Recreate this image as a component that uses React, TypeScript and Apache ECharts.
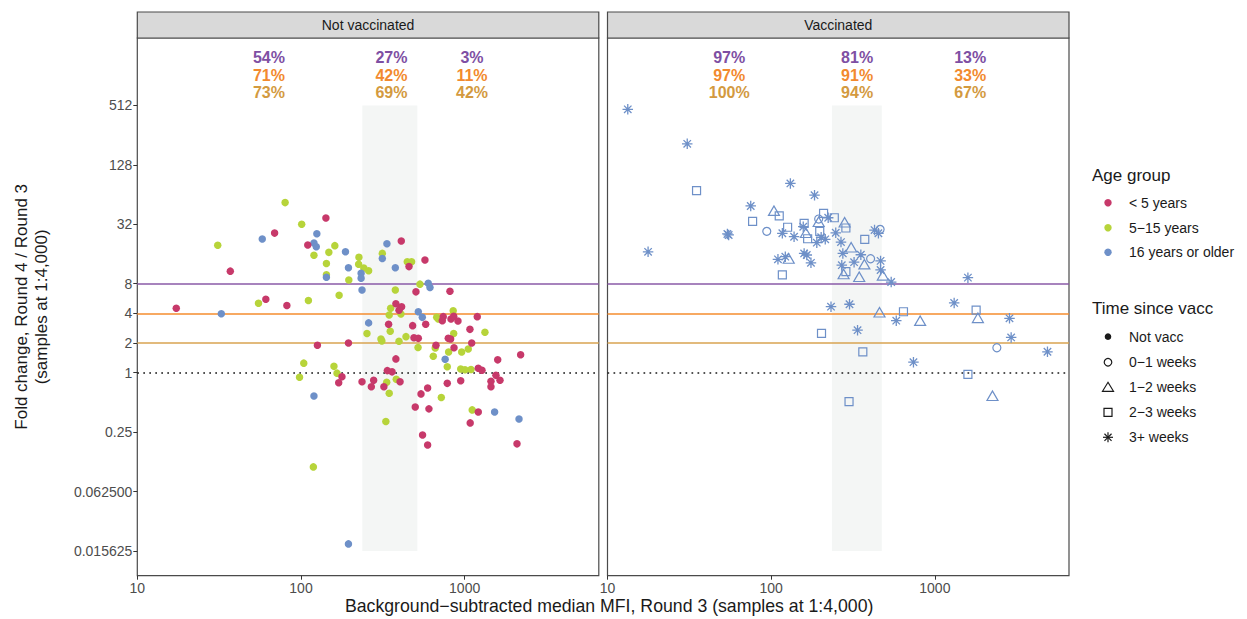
import React, { useEffect, useRef } from "react";
import * as echarts from "echarts";

const FONT = "'Liberation Sans', Arial, Helvetica, sans-serif";

// ---------- Not vaccinated panel: [MFI round 3, fold change] ----------
const notVaccUnder5: number[][] = [
  [142, 37], [69, 26], [110, 19.7], [37, 10.7], [61, 5.55], [82, 4.8], [17.3, 4.5],
  [126, 1.9], [195, 2.0], [178, 0.91], [170, 0.79], [236, 0.81], [278, 0.84], [269, 0.72],
  [410, 21.6], [457, 11.9], [572, 13.9], [504, 6.6], [813, 6.7], [380, 5.0], [412, 4.67],
  [397, 4.3], [578, 3.1], [481, 3.0], [343, 3.1], [740, 3.7], [825, 3.5], [857, 3.73],
  [730, 3.37], [910, 3.34], [1194, 3.7], [1077, 2.75], [490, 2.26], [521, 2.23], [794, 2.23],
  [821, 2.2], [1104, 2.0], [668, 1.9], [861, 1.79], [1592, 1.35], [2198, 1.52], [380, 1.38],
  [1211, 1.11], [1276, 1.06], [337, 1.05], [360, 1.02], [403, 0.81], [321, 0.72], [541, 0.61],
  [594, 0.7], [783, 0.78], [946, 0.83], [1553, 0.94], [1448, 0.82], [1448, 0.72], [1644, 0.84],
  [499, 0.45], [605, 0.43], [1211, 0.4], [1081, 0.31], [553, 0.234], [594, 0.185], [2088, 0.19],
];
const notVacc5to15: number[][] = [
  [80, 53], [101, 32], [161, 19.4], [31, 19.6], [148, 16.6], [120, 15.5], [226, 14.8],
  [143, 12.8], [225, 12.6], [242, 11.5], [259, 10.8], [143, 9.85], [196, 8.7], [171, 6.1],
  [55, 5.05], [111, 5.4], [253, 2.5], [104, 1.25], [159, 1.16], [166, 0.99], [98, 0.9],
  [314, 16.2], [446, 13.3], [474, 13.3], [533, 7.9], [377, 6.9], [353, 4.5], [408, 3.93],
  [346, 3.84], [851, 4.25], [675, 3.64], [690, 3.5], [351, 2.63], [1330, 2.57], [857, 2.5],
  [308, 2.2], [312, 2.1], [438, 2.32], [397, 2.08], [519, 1.8], [661, 1.78], [1052, 1.74],
  [959, 1.62], [798, 1.62], [643, 1.47], [783, 1.15], [946, 1.09], [1005, 1.07], [1093, 1.08],
  [382, 0.86], [334, 0.8], [346, 0.62], [720, 0.56], [1112, 0.42], [330, 0.32], [119, 0.111],
];
const notVacc16plus: number[][] = [
  [125, 25.6], [58, 22.7], [120, 20.6], [124, 18.9], [187, 16.8], [195, 11.6], [233, 10.2],
  [143, 9.3], [233, 9.05], [236, 6.9], [32.6, 3.96], [259, 3.2], [120, 0.58], [335, 20.3],
  [314, 14.4], [377, 11.6], [599, 8.06], [614, 7.3], [521, 4.15], [551, 3.64], [760, 1.37],
  [1524, 0.4], [2148, 0.34], [195, 0.0184],
];

// ---------- Vaccinated panel (all 16 years or older), by time since vaccination ----------
const vacc0to1: number[][] = [[94, 27.1], [195, 36.1], [463, 28.4], [405, 14.3], [2392, 1.79]];
const vacc1to2: number[][] = [
  [104, 43.9], [163, 26.2], [195, 33.9], [281, 33.5], [308, 18.7], [371, 12.6], [277, 10.0],
  [345, 9.4], [481, 9.7], [128, 14.4], [459, 4.1], [813, 3.37], [1832, 3.6], [2249, 0.585],
];
const vacc2to3: number[][] = [
  [35, 70], [112, 38.8], [77, 34.2], [126, 29.8], [159, 32.7], [167, 22.8], [209, 41.3],
  [243, 37.2], [198, 27.1], [286, 29.3], [373, 22.5], [286, 10.6], [117, 9.8], [643, 4.15],
  [1787, 4.3], [203, 2.5], [363, 1.63], [1592, 0.96], [299, 0.51],
];
const vacc3plus: number[][] = [
  [13.3, 467], [30.7, 209], [131, 83], [184, 63], [75, 49], [54, 25.5], [55, 24.9],
  [117, 25.9], [138, 23.9], [157, 30.2], [223, 37.2], [202, 23.6], [214, 22.5], [190, 20.8],
  [248, 26.2], [267, 21.1], [428, 27.9], [452, 25.9], [274, 16.2], [353, 15.7], [321, 13.2],
  [270, 12.3], [466, 13.6], [466, 11.0], [541, 8.3], [17.7, 16.8], [110, 14.1], [122, 15.0],
  [159, 16.2], [175, 13.0], [165, 15.6], [1592, 9.2], [232, 4.67], [301, 4.94], [581, 3.37],
  [1312, 5.1], [2858, 3.56], [2925, 2.28], [4875, 1.63], [337, 2.7], [740, 1.28],
];

// ---------- shaded MFI ranges ----------
const shadeNotVacc = [237, 514];
const shadeVacc = [235, 474];
const shadeFold = [0.015625, 512];

// ---------- threshold lines ----------
const thresholds = [8, 4, 2];
const baseline = 1;

// ---------- percentage annotations ----------
const pctRowFold = [1559, 1039, 689];
const pctNotVaccX = [63.7, 357, 1109];
const pctVaccX = [55.4, 335, 1644];
const pctNotVacc = [
  ["54%", "27%", "3%"],
  ["71%", "42%", "11%"],
  ["73%", "69%", "42%"],
];
const pctVacc = [
  ["97%", "81%", "13%"],
  ["97%", "91%", "33%"],
  ["100%", "94%", "67%"],
];

// ---------- ticks ----------
const yTickValues = [0.015625, 0.0625, 0.25, 1, 2, 4, 8, 32, 128, 512];
const yTickLabels = ["0.015625", "0.062500", "0.25", "1", "2", "4", "8", "32", "128", "512"];
const xTickValues = [10, 100, 1000];
const xTickLabels = ["10", "100", "1000"];

const panelTitles = ["Not vaccinated", "Vaccinated"];
const ageGroups = ["< 5 years", "5\u221215 years", "16 years or older"];
const timeGroups = ["Not vacc", "0\u22121 weeks", "1\u22122 weeks", "2\u22123 weeks", "3+ weeks"];

const RED = "#C7396A";
const GREEN = "#B7D43A";
const BLUE = "#6E90C8";
const PURPLE = "#7E4FA3";
const ORANGE = "#F28A2E";
const GOLD = "#D39A3F";
const lineColors = ["#8A5AA7", "#F48C2E", "#D8A350"];
const rowColors = [PURPLE, ORANGE, GOLD];

const ASTERISK = "path://M5,0L5,10M0,5L10,5M1.46,1.46L8.54,8.54M1.46,8.54L8.54,1.46";

const Y_MIN = 0.00876;
const Y_MAX = 2470;
const X_MIN = 10;
const X_MAX = 6600;

const GRID_TOP = 38;
const GRID_H = 537.7;
const GRID_W = 461.5;
const GRID_LEFT = [137.3, 607.5];

function buildOption() {
  const yFmt = (v: number) => {
    const i = yTickValues.findIndex((t) => Math.abs(t - v) / t < 1e-6);
    return i >= 0 ? yTickLabels[i] : "";
  };
  const xFmt = (v: number) => {
    const i = xTickValues.findIndex((t) => Math.abs(t - v) / t < 1e-6);
    return i >= 0 ? xTickLabels[i] : "";
  };

  const grids = GRID_LEFT.map((left) => ({
    left,
    top: GRID_TOP,
    width: GRID_W,
    height: GRID_H,
    show: true,
    borderColor: "#4A4A4A",
    borderWidth: 1.2,
    backgroundColor: "transparent",
  }));

  const xAxes = [0, 1].map((i) => ({
    type: "log",
    logBase: 10,
    gridIndex: i,
    min: X_MIN,
    max: X_MAX,
    axisLine: { show: false },
    splitLine: { show: false },
    axisTick: { show: true, length: 4, lineStyle: { color: "#333", width: 1 }, customValues: xTickValues },
    axisLabel: {
      show: true,
      color: "#4D4D4D",
      fontSize: 14,
      fontFamily: FONT,
      margin: 5,
      customValues: xTickValues,
      formatter: xFmt,
    },
  }));

  const yAxes = [0, 1].map((i) => ({
    type: "log",
    logBase: 2,
    gridIndex: i,
    min: Y_MIN,
    max: Y_MAX,
    axisLine: { show: false },
    splitLine: { show: false },
    name: i === 0 ? "Fold change, Round 4 / Round 3\n(samples at 1:4,000)" : "",
    nameLocation: "middle",
    nameGap: 86,
    nameTextStyle: { fontSize: 17, color: "#1A1A1A", fontFamily: FONT, lineHeight: 20 },
    axisTick: {
      show: i === 0,
      length: 4,
      lineStyle: { color: "#333", width: 1 },
      customValues: yTickValues,
    },
    axisLabel: {
      show: i === 0,
      color: "#4D4D4D",
      fontSize: 14,
      fontFamily: FONT,
      margin: 5,
      customValues: yTickValues,
      formatter: yFmt,
    },
  }));

  const markLines = {
    silent: true,
    symbol: ["none", "none"],
    label: { show: false },
    z: 1,
    data: [
      ...thresholds.map((v, k) => ({ yAxis: v, lineStyle: { color: lineColors[k], width: 1.6, type: "solid" } })),
      { yAxis: baseline, lineStyle: { color: "#1A1A1A", width: 1.7, type: [1.7, 4.3] } },
    ],
  };

  const pctData = (xs: number[], rows: string[][]) => {
    const out: any[] = [];
    rows.forEach((row, r) =>
      row.forEach((txt, c) =>
        out.push({ value: [xs[c], pctRowFold[r]], name: txt, label: { color: rowColors[r] } })
      )
    );
    return out;
  };

  const helper = (i: number, shade: number[], xs: number[], rows: string[][]) => ({
    type: "scatter",
    name: "annot" + i,
    xAxisIndex: i,
    yAxisIndex: i,
    symbolSize: 0,
    silent: true,
    z: 1,
    itemStyle: { color: "rgba(0,0,0,0)", opacity: 1 },
    data: pctData(xs, rows),
    label: {
      show: true,
      position: "inside",
      formatter: "{b}",
      fontSize: 16,
      fontWeight: "bold",
      fontFamily: FONT,
      opacity: 1,
      textBorderWidth: 0,
      textBorderColor: "transparent",
      textShadowBlur: 0,
    },
    emphasis: { disabled: true },
    markArea: {
      silent: true,
      z: 0,
      itemStyle: { color: "#F4F6F5", opacity: 1 },
      data: [[{ xAxis: shade[0], yAxis: shadeFold[0] }, { xAxis: shade[1], yAxis: shadeFold[1] }]],
    },
    markLine: markLines,
  });

  const dot = (name: string, data: number[][], color: string) => ({
    type: "scatter",
    name,
    xAxisIndex: 0,
    yAxisIndex: 0,
    data,
    symbol: "circle",
    symbolSize: 7.5,
    z: 3,
    itemStyle: { color, opacity: 1 },
  });

  const hollow = (name: string, data: number[][], symbol: string, size: any, bw = 1.2) => ({
    type: "scatter",
    name,
    xAxisIndex: 1,
    yAxisIndex: 1,
    data,
    symbol,
    symbolSize: size,
    z: 3,
    itemStyle: { color: "rgba(0,0,0,0)", borderColor: BLUE, borderWidth: bw, opacity: 1 },
  });

  // ---------- graphics: strips, x title, legends ----------
  const graphics: any[] = [];
  GRID_LEFT.forEach((left, i) => {
    graphics.push({
      type: "rect",
      shape: { x: left, y: 12, width: GRID_W, height: 26 },
      style: { fill: "#D9D9D9", stroke: "#4A4A4A", lineWidth: 1.2 },
      silent: true,
    });
    graphics.push({
      type: "text",
      x: left + GRID_W / 2,
      y: 25,
      style: {
        text: panelTitles[i],
        fill: "#1A1A1A",
        fontSize: 14,
        fontFamily: FONT,
        align: "center",
        verticalAlign: "middle",
      },
      silent: true,
    });
  });
  graphics.push({
    type: "text",
    x: (GRID_LEFT[0] + GRID_LEFT[1] + GRID_W) / 2 + 6,
    y: 606,
    style: {
      text: "Background\u2212subtracted median MFI, Round 3 (samples at 1:4,000)",
      fill: "#1A1A1A",
      fontSize: 17.7,
      fontFamily: FONT,
      align: "center",
      verticalAlign: "middle",
    },
    silent: true,
  });

  const LX = 1092;
  const IX = 1108;
  const TX = 1129;
  const ageY = [202.7, 227.7, 252.3];
  const ageCols = [RED, GREEN, BLUE];
  graphics.push({
    type: "text",
    x: LX,
    y: 175,
    style: { text: "Age group", fill: "#1A1A1A", fontSize: 17, fontFamily: FONT, verticalAlign: "middle" },
  });
  ageGroups.forEach((g, k) => {
    graphics.push({ type: "circle", shape: { cx: IX, cy: ageY[k], r: 3.7 }, style: { fill: ageCols[k] } });
    graphics.push({
      type: "text",
      x: TX,
      y: ageY[k],
      style: { text: g, fill: "#1A1A1A", fontSize: 14, fontFamily: FONT, verticalAlign: "middle" },
    });
  });
  const timeY = [336.7, 362.3, 387.3, 412.3, 437.3];
  graphics.push({
    type: "text",
    x: LX,
    y: 308.3,
    style: { text: "Time since vacc", fill: "#1A1A1A", fontSize: 17, fontFamily: FONT, verticalAlign: "middle" },
  });
  const K = "#1A1A1A";
  const stroke = { fill: "none", stroke: K, lineWidth: 1.2 };
  graphics.push({ type: "circle", shape: { cx: IX, cy: timeY[0], r: 3.3 }, style: { fill: K } });
  graphics.push({ type: "circle", shape: { cx: IX, cy: timeY[1], r: 3.8 }, style: stroke });
  graphics.push({
    type: "polygon",
    shape: { points: [[IX, timeY[2] - 5], [IX + 5.5, timeY[2] + 4], [IX - 5.5, timeY[2] + 4]] },
    style: stroke,
  });
  graphics.push({ type: "rect", shape: { x: IX - 4, y: timeY[3] - 4, width: 8, height: 8 }, style: stroke });
  const a = 5;
  const d = 3.54;
  [
    [0, -a, 0, a],
    [-a, 0, a, 0],
    [-d, -d, d, d],
    [-d, d, d, -d],
  ].forEach(([x1, y1, x2, y2]) =>
    graphics.push({
      type: "line",
      shape: { x1: IX + x1, y1: timeY[4] + y1, x2: IX + x2, y2: timeY[4] + y2 },
      style: { stroke: K, lineWidth: 1.2 },
    })
  );
  timeGroups.forEach((g, k) =>
    graphics.push({
      type: "text",
      x: TX,
      y: timeY[k],
      style: { text: g, fill: "#1A1A1A", fontSize: 14, fontFamily: FONT, verticalAlign: "middle" },
    })
  );

  return {
    animation: false,
    backgroundColor: "#FFFFFF",
    textStyle: { fontFamily: FONT },
    grid: grids,
    xAxis: xAxes,
    yAxis: yAxes,
    graphic: graphics,
    series: [
      helper(0, shadeNotVacc, pctNotVaccX, pctNotVacc),
      helper(1, shadeVacc, pctVaccX, pctVacc),
      dot(ageGroups[1], notVacc5to15, GREEN),
      dot(ageGroups[2], notVacc16plus, BLUE),
      dot(ageGroups[0], notVaccUnder5, RED),
      hollow(timeGroups[1], vacc0to1, "circle", 8),
      hollow(timeGroups[2], vacc1to2, "triangle", [11, 9.5]),
      hollow(timeGroups[3], vacc2to3, "rect", 8),
      hollow(timeGroups[4], vacc3plus, ASTERISK, 10.5, 1.3),
    ],
  };
}

export default function App() {
  const ref = useRef<HTMLDivElement>(null);
  useEffect(() => {
    document.body.style.margin = "0";
    const chart = echarts.init(ref.current as HTMLDivElement, undefined, { renderer: "svg" });
    chart.setOption(buildOption() as any);
    return () => chart.dispose();
  }, []);
  return <div ref={ref} style={{ width: 1247, height: 619 }} />;
}
